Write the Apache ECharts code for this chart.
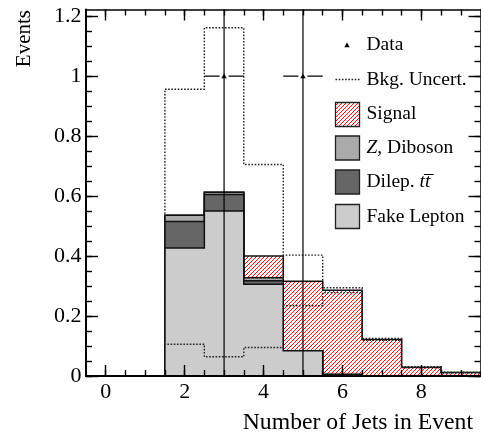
<!DOCTYPE html>
<html><head><meta charset="utf-8">
<script src="https://cdn.jsdelivr.net/npm/echarts@6/dist/echarts.min.js"></script>
<style>html,body{margin:0;padding:0;background:#fff}#c{width:481px;height:435px}</style>
</head><body><div id="c"></div>
<script>
// ---- data ----
const binCenters = [0, 1, 2, 3, 4, 5, 6, 7, 8, 9];
const fakeLepton = [0, 0, 0.427, 0.550, 0.306, 0.084, 0.005, 0, 0, 0];
const dilepTT    = [0, 0, 0.088, 0.055, 0.012, 0, 0, 0, 0, 0];
const zDiboson   = [0, 0, 0.021, 0.008, 0.010, 0, 0, 0, 0, 0];
const signal     = [0, 0, 0, 0, 0.072, 0.232, 0.281, 0.122, 0.029, 0.012];
const uncUpper   = [0, 0, 0.956, 1.161, 0.705, 0.403, 0.294, 0.125, 0.031, 0.013];
const uncLower   = [0, 0, 0.106, 0.064, 0.095, 0.234, 0.278, 0.119, 0.027, 0.011];
const dataX      = [3, 5];
const dataY      = [1, 1];
const dataYErr   = [1, 1];
const dataXErr   = [0.5, 0.5];
const xMajorTicks = [0, 2, 4, 6, 8];
const xMinorTicks = [0, 0.5, 1, 1.5, 2, 2.5, 3, 3.5, 4, 4.5, 5, 5.5, 6, 6.5, 7, 7.5, 8, 8.5, 9];
const yMajorTicks = [0, 0.2, 0.4, 0.6, 0.8, 1, 1.2];
const yMinorTicks = [0, 0.05, 0.1, 0.15, 0.2, 0.25, 0.3, 0.35, 0.4, 0.45, 0.5, 0.55, 0.6, 0.65, 0.7, 0.75, 0.8, 0.85, 0.9, 0.95, 1, 1.05, 1.1, 1.15, 1.2];
const xTitle = 'Number of Jets in Event';
const yTitle = 'Events';

// ---- helpers ----
const FONT = '"Liberation Serif", "Times New Roman", serif';
const BIN_W = 1;
const X_MIN = -0.5, X_MAX = 9.5, Y_MIN = 0, Y_MAX = 1.222;
const HATCH_P = 4;

function cumulative(...arrs) {
  return binCenters.map((_, i) => arrs.reduce((s, a) => s + a[i], 0));
}
const cumFake = cumulative(fakeLepton);
const cumTT = cumulative(fakeLepton, dilepTT);
const cumZ = cumulative(fakeLepton, dilepTT, zDiboson);
const cumSig = cumulative(fakeLepton, dilepTT, zDiboson, signal);

// pixel-crisp diagonal "/" hatch: 1x1 pixel cells inside a rectangle
function hatchCells(x0, y0, x1, y1) {
  const out = [];
  for (let py = Math.round(y0); py < Math.round(y1); py++) {
    for (let px = Math.round(x0); px < Math.round(x1); px++) {
      if (((px + py) % HATCH_P + HATCH_P) % HATCH_P === 0) out.push([px, py]);
    }
  }
  return out;
}
const HATCH_COLOR = '#ff1010';

function stepPts(api, vals) {
  let first = -1, last = -1;
  vals.forEach((v, i) => { if (v > 0) { if (first < 0) first = i; last = i; } });
  const pts = [];
  if (first < 0) return pts;
  pts.push(api.coord([binCenters[first] - BIN_W / 2, 0]));
  for (let i = first; i <= last; i++) {
    pts.push(api.coord([binCenters[i] - BIN_W / 2, vals[i]]));
    pts.push(api.coord([binCenters[i] + BIN_W / 2, vals[i]]));
  }
  pts.push(api.coord([binCenters[last] + BIN_W / 2, 0]));
  return pts;
}

function layerSeries(name, vals, fill, z, hatchBelow) {
  return {
    name, type: 'custom', coordinateSystem: 'cartesian2d', z,
    data: [[0, 0]], clip: true, silent: true,
    renderItem: (params, api) => {
      const pts = stepPts(api, vals);
      const children = [{ type: 'polygon', shape: { points: pts }, style: { fill: fill, stroke: null } }];
      if (hatchBelow) {
        let d = '';
        binCenters.forEach((c, i) => {
          if (vals[i] > hatchBelow[i]) {
            const a = api.coord([c - BIN_W / 2, vals[i]]);
            const b = api.coord([c + BIN_W / 2, hatchBelow[i]]);
            hatchCells(a[0], a[1], b[0], b[1]).forEach(p => {
              d += 'M' + p[0] + ' ' + p[1] + 'h1v1h-1z';
            });
          }
        });
        children.push({ type: 'path', shape: { pathData: d }, style: { fill: HATCH_COLOR, stroke: null } });
      }
      children.push({ type: 'polyline', shape: { points: pts }, style: { fill: null, stroke: '#111', lineWidth: 1.5 } });
      return { type: 'group', children };
    }
  };
}

function bandLine(vals, api) {
  let first = -1, last = -1;
  vals.forEach((v, i) => { if (v > 0) { if (first < 0) first = i; last = i; } });
  const pts = [];
  for (let i = first; i <= last; i++) {
    pts.push(api.coord([binCenters[i] - BIN_W / 2, vals[i]]));
    pts.push(api.coord([binCenters[i] + BIN_W / 2, vals[i]]));
  }
  return pts;
}

const bandSeries = {
  name: 'Bkg. Uncert.', type: 'custom', coordinateSystem: 'cartesian2d', z: 5,
  data: [[0, 0]], clip: true, silent: true,
  renderItem: (params, api) => {
    const up = bandLine(uncUpper, api);
    const lo = bandLine(uncLower, api);
    const pts = up.concat(lo.slice().reverse());
    pts.push(up[0]);
    return { type: 'polyline', shape: { points: pts },
      style: { fill: null, stroke: '#222', lineWidth: 1.4, lineDash: [1.6, 1.6] } };
  }
};

const dataSeries = {
  name: 'Data', type: 'custom', coordinateSystem: 'cartesian2d', z: 6,
  data: dataX.map((x, i) => [x, dataY[i], dataYErr[i], dataXErr[i]]),
  clip: true, silent: true,
  renderItem: (params, api) => {
    const x = api.value(0), y = api.value(1), ey = api.value(2), ex = api.value(3);
    const c = api.coord([x, y]);
    const top = api.coord([x, y + ey]);
    const bot = api.coord([x, y - ey]);
    const l = api.coord([x - ex, y]);
    const r = api.coord([x + ex, y]);
    const gap = 4.5;
    const ls = { stroke: '#000', lineWidth: 1.2 };
    return {
      type: 'group', children: [
        { type: 'line', shape: { x1: c[0], y1: bot[1], x2: c[0], y2: top[1] }, style: ls },
        { type: 'line', shape: { x1: l[0], y1: c[1], x2: c[0] - gap, y2: c[1] }, style: ls },
        { type: 'line', shape: { x1: c[0] + gap, y1: c[1], x2: r[0], y2: c[1] }, style: ls },
        { type: 'polygon', shape: { points: [[c[0] - 2.7, c[1] + 2.2], [c[0] + 2.7, c[1] + 2.2], [c[0], c[1] - 2.6]] }, style: { fill: '#000' } }
      ]
    };
  }
};

function xAxisDef(position, ticks, len, labels, lw, showLine) {
  return {
    type: 'value', position, min: X_MIN, max: X_MAX, z: 10,
    axisLine: { show: showLine, onZero: false, lineStyle: { color: '#000', width: lw } },
    axisTick: { show: true, inside: true, length: len, customValues: ticks, lineStyle: { color: '#000', width: 1.4 } },
    axisLabel: labels ? { show: true, customValues: xMajorTicks, margin: 5, color: '#000', fontFamily: FONT, fontSize: 22 } : { show: false },
    splitLine: { show: false }, minorTick: { show: false }
  };
}
function yAxisDef(position, ticks, len, labels, lw, showLine) {
  return {
    type: 'value', position, min: Y_MIN, max: Y_MAX, z: 10,
    axisLine: { show: showLine, onZero: false, lineStyle: { color: '#000', width: lw } },
    axisTick: { show: true, inside: true, length: len, customValues: ticks, lineStyle: { color: '#000', width: 1.4 } },
    axisLabel: labels ? { show: true, customValues: yMajorTicks, margin: 4.5, color: '#000', fontFamily: FONT, fontSize: 22 } : { show: false },
    splitLine: { show: false }, minorTick: { show: false }
  };
}

// ---- legend (graphic) ----
const LX = 335.5, LW = 24, LTX = 366.5, LFS = 19.5;
const rows = [45, 79.5, 113.7, 148, 182, 216.5];
function legText(y, text, rich) {
  return { type: 'text', x: LTX, y: y, z: 20,
    style: { text, fill: '#000', fontFamily: FONT, fontSize: LFS, verticalAlign: 'middle', align: 'left', rich: rich || {} } };
}
function legBox(y, fill) {
  return { type: 'rect', z: 20, shape: { x: LX, y: y - LW / 2, width: LW, height: LW },
    style: { fill, stroke: '#222', lineWidth: 1.3 } };
}
const italic = { i: { fontStyle: 'italic', fontFamily: FONT, fontSize: LFS, fill: '#000' } };
const sigY = Math.round(rows[2] - LW / 2) + 0.5;
const legendGraphics = [
  { type: 'polygon', z: 20, shape: { points: [[347 - 2.7, rows[0] + 2.2], [347 + 2.7, rows[0] + 2.2], [347, rows[0] - 2.6]] }, style: { fill: '#000' } },
  legText(rows[0], 'Data'),
  { type: 'line', z: 20, shape: { x1: LX, y1: rows[1], x2: LX + LW, y2: rows[1] }, style: { stroke: '#222', lineWidth: 1.4, lineDash: [1.6, 1.6] } },
  legText(rows[1], 'Bkg. Uncert.'),
  { type: 'rect', z: 20, shape: { x: LX, y: sigY, width: LW, height: LW }, style: { fill: '#fff' } },
  { type: 'group', z: 21, children: hatchCells(LX, sigY, LX + LW, sigY + LW).map(p => ({
      type: 'rect', z: 21, shape: { x: p[0], y: p[1], width: 1, height: 1 }, style: { fill: HATCH_COLOR } })) },
  { type: 'rect', z: 22, shape: { x: LX, y: sigY, width: LW, height: LW }, style: { fill: null, stroke: '#222', lineWidth: 1.3 } },
  legText(rows[2], 'Signal'),
  legBox(rows[3], '#aaaaaa'), legText(rows[3], '{i|Z}, Diboson', italic),
  legBox(rows[4], '#666666'), legText(rows[4], 'Dilep. {i|tt\u0305}', italic),
  legBox(rows[5], '#cccccc'), legText(rows[5], 'Fake Lepton'),
  { type: 'text', x: 473, y: 423, z: 20, style: { text: xTitle, fill: '#000', fontFamily: FONT, fontSize: 23.7, align: 'right', verticalAlign: 'middle' } },
  { type: 'text', x: 24, y: 10, rotation: Math.PI / 2, z: 20, style: { text: yTitle, fill: '#000', fontFamily: FONT, fontSize: 21, align: 'right', verticalAlign: 'middle' } }
];

const chart = echarts.init(document.getElementById('c'), null, { renderer: 'canvas' });
chart.setOption({
  animation: false,
  backgroundColor: '#fff',
  grid: { left: 86, right: 0.5, top: 9.5, bottom: 59, containLabel: false, outerBoundsMode: 'none' },
  xAxis: [
    xAxisDef('bottom', xMajorTicks, 11, true, 2, true),
    xAxisDef('bottom', xMinorTicks, 6, false, 2, false),
    xAxisDef('top', xMajorTicks, 11, false, 1.5, true),
    xAxisDef('top', xMinorTicks, 6, false, 1.5, false)
  ],
  yAxis: [
    yAxisDef('left', yMajorTicks, 12, true, 2, true),
    yAxisDef('left', yMinorTicks, 6, false, 2, false),
    yAxisDef('right', yMajorTicks, 12, false, 1.5, true),
    yAxisDef('right', yMinorTicks, 6, false, 1.5, false)
  ],
  graphic: legendGraphics,
  series: [
    layerSeries('Signal', cumSig, '#ffffff', 2, cumZ),
    layerSeries('Z, Diboson', cumZ, '#aaaaaa', 2.1),
    layerSeries('Dilep. tt', cumTT, '#666666', 2.2),
    layerSeries('Fake Lepton', cumFake, '#cccccc', 2.3),
    bandSeries,
    dataSeries
  ]
});
</script>
</body></html>
